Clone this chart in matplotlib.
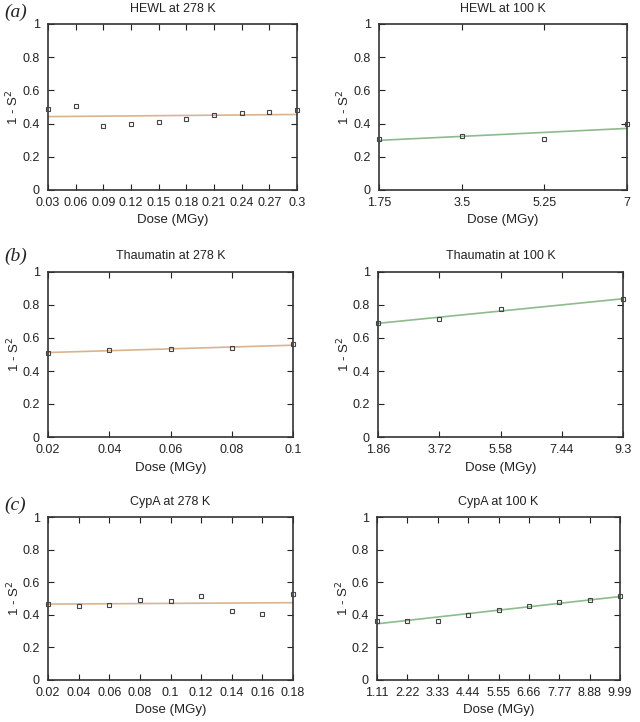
import matplotlib
matplotlib.use("Agg")
import matplotlib.pyplot as plt
import numpy as np

plt.rcParams['font.family'] = ['Liberation Sans', 'DejaVu Sans']

# HEWL
hewl_278_x = [0.03, 0.06, 0.09, 0.12, 0.15, 0.18, 0.21, 0.24, 0.27, 0.3]
hewl_278_y = [0.49, 0.505, 0.385, 0.40, 0.41, 0.43, 0.45, 0.465, 0.47, 0.48]
hewl_278_ticks = ["0.03", "0.06", "0.09", "0.12", "0.15", "0.18", "0.21", "0.24", "0.27", "0.3"]

hewl_100_x = [1.75, 3.5, 5.25, 7.0]
hewl_100_y = [0.31, 0.325, 0.31, 0.395]
hewl_100_ticks = ["1.75", "3.5", "5.25", "7"]

# Thaumatin
thau_278_x = [0.02, 0.04, 0.06, 0.08, 0.1]
thau_278_y = [0.51, 0.53, 0.532, 0.537, 0.562]
thau_278_ticks = ["0.02", "0.04", "0.06", "0.08", "0.1"]

thau_100_x = [1.86, 3.72, 5.58, 9.3]
thau_100_y = [0.69, 0.718, 0.773, 0.835]
thau_100_ticks = ["1.86", "3.72", "5.58", "7.44", "9.3"]

# CypA
cypa_278_x = [0.02, 0.04, 0.06, 0.08, 0.1, 0.12, 0.14, 0.16, 0.18]
cypa_278_y = [0.465, 0.455, 0.46, 0.49, 0.485, 0.515, 0.425, 0.405, 0.53]
cypa_278_ticks = ["0.02", "0.04", "0.06", "0.08", "0.1", "0.12", "0.14", "0.16", "0.18"]

cypa_100_x = [1.11, 2.22, 3.33, 4.44, 5.55, 6.66, 7.77, 8.88, 9.99]
cypa_100_y = [0.365, 0.365, 0.365, 0.397, 0.428, 0.453, 0.477, 0.49, 0.515]
cypa_100_ticks = ["1.11", "2.22", "3.33", "4.44", "5.55", "6.66", "7.77", "8.88", "9.99"]

panel_letters = ["(a)", "(b)", "(c)"]

orange = '#dab48e'
green = '#8dbb8d'

W, H = 640, 722
fig = plt.figure(figsize=(W / 100, H / 100), dpi=100)

# (title, x, y, tick labels, line colour, pixel box left, top, right, bottom)
panels = [
    ("HEWL at 278 K", hewl_278_x, hewl_278_y, hewl_278_ticks, orange, (48, 24, 297, 190)),
    ("HEWL at 100 K", hewl_100_x, hewl_100_y, hewl_100_ticks, green, (379, 24, 627, 190)),
    ("Thaumatin at 278 K", thau_278_x, thau_278_y, thau_278_ticks, orange, (48, 272, 293, 437)),
    ("Thaumatin at 100 K", thau_100_x, thau_100_y, thau_100_ticks, green, (378, 272, 623, 437)),
    ("CypA at 278 K", cypa_278_x, cypa_278_y, cypa_278_ticks, orange, (48, 517, 293, 680)),
    ("CypA at 100 K", cypa_100_x, cypa_100_y, cypa_100_ticks, green, (377, 517, 620, 680)),
]
letter_y = [12, 256, 505]

for i, (title, x, y, ticks, col, box) in enumerate(panels):
    l, t, r, b = box
    ax = fig.add_axes([l / W, (H - b) / H, (r - l) / W, (b - t) / H])
    x = np.array(x)
    y = np.array(y)
    m, c = np.polyfit(x, y, 1)
    xt = [float(s) for s in ticks]
    xx = np.array([xt[0], xt[-1]])
    ax.plot(xx, m * xx + c, color=col, lw=1.2, zorder=2)
    ax.plot(x, y, 's', mfc='none', mec='#444444', ms=3.2, mew=0.8, clip_on=False, zorder=3)
    ax.set_xlim(xt[0], xt[-1])
    ax.set_ylim(0, 1)
    ax.set_xticks(xt)
    ax.set_xticklabels(ticks)
    ax.set_yticks([0, 0.2, 0.4, 0.6, 0.8, 1])
    ax.set_yticklabels(["0", "0.2", "0.4", "0.6", "0.8", "1"])
    ax.tick_params(direction='in', length=4, width=0.8, top=True, right=True,
                   labelsize=9, colors='#222222')
    ax.tick_params(axis='x', pad=5)
    ax.tick_params(axis='y', pad=6)
    for s in ax.spines.values():
        s.set_color('#333333')
        s.set_linewidth(1.2)
    ax.set_title(title, fontsize=9, pad=9, color='#222222')
    ax.set_xlabel("Dose (MGy)", fontsize=9.5, labelpad=4, color='#222222')
    ax.set_ylabel("1 - S$^2$", fontsize=9.5, color='#222222')
    ax.yaxis.set_label_coords(-0.106, 0.5)
    if i % 2 == 0:
        fig.text(4 / W, 1 - letter_y[i // 2] / H, panel_letters[i // 2], fontsize=14,
                 family='Liberation Serif', style='italic', va='center', ha='left',
                 color='#222222')

fig.savefig("out.png", dpi=100)
